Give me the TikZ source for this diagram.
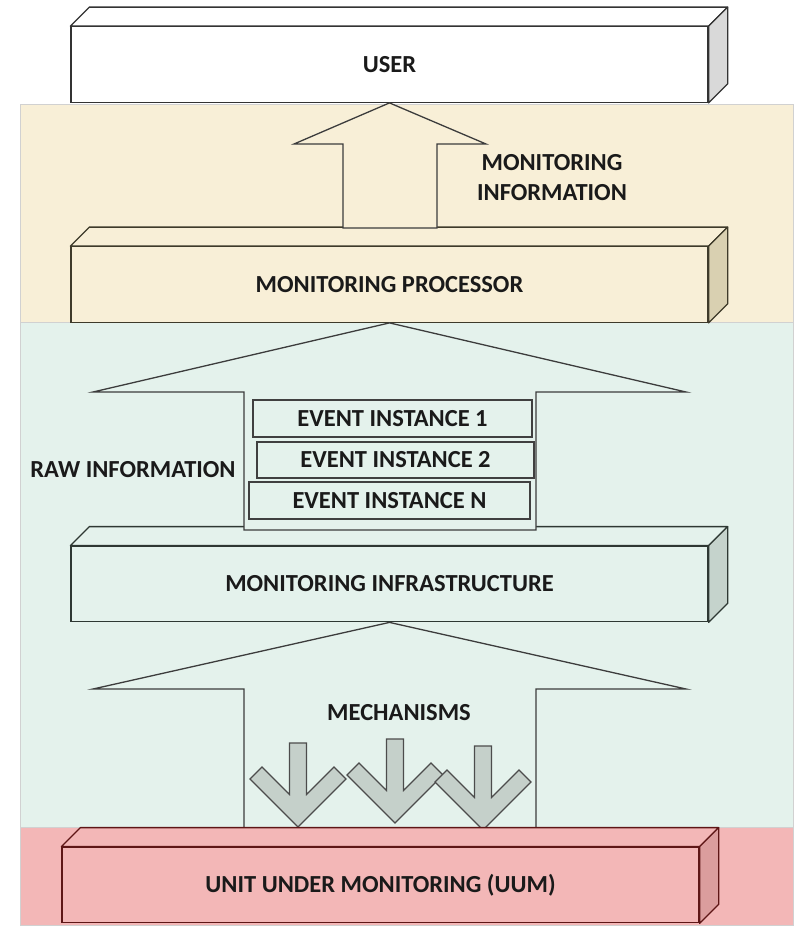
\documentclass[tikz,border=0pt]{standalone}
\usepackage{fontspec}
\setmainfont{Carlito}

\definecolor{bandYellow}{HTML}{F8EFD7}
\definecolor{sideYellow}{HTML}{D9D0B1}
\definecolor{lineYellow}{HTML}{3E3A2A}
\definecolor{bandTeal}{HTML}{E4F2EC}
\definecolor{sideTeal}{HTML}{C5D3CC}
\definecolor{lineTeal}{HTML}{2E3833}
\definecolor{bandPink}{HTML}{F3B7B7}
\definecolor{sidePink}{HTML}{DB9D9D}
\definecolor{linePink}{HTML}{5E1616}
\definecolor{sideGray}{HTML}{D9D9D9}
\definecolor{lineGray}{HTML}{333333}
\definecolor{mechFill}{HTML}{C5D0CA}
\definecolor{inkDark}{HTML}{1A1A1A}

% A flat slab seen slightly from above: front face node plus top and right faces
\newcommand\slab[6]{%
  \node[slabface, fill=#3, draw=#5] (#1) at (#2) {#6};
  \draw[facepath, draw=#5, fill=#3] (#1.north west) -- ++(19,-19)
     -- ([shift={(19,-19)}]#1.north east) -- (#1.north east) -- cycle;
  \draw[facepath, draw=#5, fill=#4] (#1.north east) -- ++(19,-19)
     -- ([shift={(19,-19)}]#1.south east) -- (#1.south east) -- cycle;
}

\begin{document}
\begin{tikzpicture}[x=1pt, y=-1pt,
  font=\fontsize{24.5}{30}\selectfont\bfseries,
  band/.style={draw=black!18, line width=0.8pt},
  slabface/.style={minimum width=637pt, minimum height=75.5pt, inner sep=0pt, line width=1.3pt, text=inkDark},
  facepath/.style={line width=1.3pt, line join=round},
  blockarrow/.style={draw=inkDark!85, line width=1.3pt, line join=miter},
  eventbox/.style={draw=black!75, line width=1.4pt, fill=bandTeal, inner sep=0pt, text=inkDark},
  label/.style={text=inkDark, align=center},
  mech/.pic={\draw[fill=mechFill, draw=black!70, line width=1.1pt, line join=miter]
     (0,0) -- (-48,-48) -- (-36,-60) -- (-8.5,-32.5) -- (-8.5,-84) -- (8.5,-84)
     -- (8.5,-32.5) -- (36,-60) -- (48,-48) -- cycle;}
]
\useasboundingbox (0,0) rectangle (797,927);

% coloured layers
\fill[white] (0,0) rectangle (797,927);
\filldraw[band, fill=bandYellow] (20,104) rectangle (793,322);
\filldraw[band, fill=bandTeal] (20,322) rectangle (793,827);
\filldraw[band, fill=bandPink] (20,827) rectangle (793,925);

% slabs
\slab{user}{389.5,64.5}{white}{sideGray}{lineGray}{USER}
\slab{proc}{389.5,284.5}{bandYellow}{sideYellow}{lineYellow}{MONITORING PROCESSOR}
\slab{infra}{389.5,584}{bandTeal}{sideTeal}{lineTeal}{MONITORING INFRASTRUCTURE}

% block arrows between the layers
\draw[blockarrow, fill=bandYellow] (343,228) -- (343,144) -- (294,144) -- (user.south)
   -- (486,144) -- (437,144) -- (437,228) -- cycle;
\draw[blockarrow, fill=bandTeal] (244,530) -- (244,392) -- (93,392) -- (proc.south)
   -- (686,392) -- (536,392) -- (536,530) -- cycle;
\draw[blockarrow, fill=bandTeal] (244,828) -- (244,689) -- (93,689) -- (infra.south)
   -- (686,689) -- (536,689) -- (536,828) -- cycle;

% event instances carried by the raw information arrow
\node[eventbox, minimum width=279pt, minimum height=37pt] (ev1) at (392.5,418.5) {EVENT INSTANCE 1};
\node[eventbox, minimum width=277pt, minimum height=36pt] (ev2) at (395.5,460) {EVENT INSTANCE 2};
\node[eventbox, minimum width=281pt, minimum height=37pt] (evn) at (389.5,500.5) {EVENT INSTANCE N};

% mechanisms acting on the unit
\pic at (298,827) {mech};
\pic at (395,823) {mech};
\pic at (483,830) {mech};

% unit under monitoring
\slab{uum}{380.5,885}{bandPink}{sidePink}{linePink}{UNIT UNDER MONITORING (UUM)}

% labels
\node[label] (infolbl) at (552,178) {MONITORING\\INFORMATION};
\node[label] (rawlbl) at (133,470) {RAW INFORMATION};
\node[label] (mechlbl) at (399,713) {MECHANISMS};
\end{tikzpicture}
\end{document}
